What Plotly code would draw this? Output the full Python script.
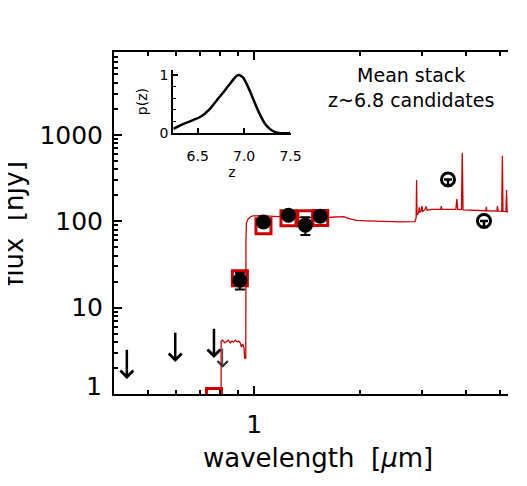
import numpy as np
import plotly.graph_objects as go

# --- data ---
# model SED (red line), wavelength in micron, flux in nJy
sed_wave = [0.40, 0.806, 0.806, 0.814, 0.825, 0.835, 0.845, 0.855, 0.865, 0.875,
            0.885, 0.895, 0.905, 0.913, 0.920, 0.928, 0.936, 0.940, 0.946, 0.947,
            0.948, 0.951, 0.960, 0.975, 0.990, 1.05, 1.20, 1.45, 1.65, 1.75,
            1.80, 1.83, 1.95, 2.10, 2.40, 2.60, 2.862, 2.885, 2.893, 2.901,
            2.93, 2.945, 2.955, 2.98, 2.995, 3.01, 3.05, 3.08, 3.10, 3.20,
            3.39, 3.40, 3.41, 3.60, 3.74, 3.765, 3.785, 3.88, 3.90, 3.92,
            4.30, 4.55, 4.565, 4.58, 4.89, 4.91, 4.93, 5.05, 5.07, 5.09,
            5.19, 5.21, 5.23, 5.40, 5.60, 6.00]
sed_flux = [0.001, 0.001, 4.1, 4.2, 3.9, 4.1, 4.2, 3.9, 4.1, 4.0,
            4.2, 4.0, 4.1, 3.9, 3.5, 3.8, 3.4, 2.6, 2.6, 2.6,
            60.0, 95.0, 105.0, 112.0, 115.0, 116.0, 112.0, 110.0, 111.0, 112.0,
            113.0, 109.0, 102.0, 101.0, 99.0, 98.0, 99.0, 110.0, 299.0, 118.0,
            125.0, 145.0, 128.0, 130.0, 150.0, 130.0, 135.0, 148.0, 134.0, 137.0,
            138.0, 150.0, 138.0, 138.0, 137.0, 180.0, 137.0, 136.0, 618.0, 135.0,
            133.0, 132.0, 147.0, 132.0, 131.0, 150.0, 131.0, 130.0, 571.0, 130.0,
            129.0, 229.0, 128.0, 127.0, 126.0, 125.0]

# model fluxes in the filter bands (red boxes)
band_wave = [0.769, 0.911, 1.063, 1.252, 1.398, 1.541]
band_flux = [0.95, 21.9, 87.5, 108.0, 108.0, 109.0]

# HST detections (filled circles)
hst_wave = [0.911, 1.063, 1.252, 1.398, 1.541]
hst_flux = [20.7, 98.0, 117.0, 90.0, 114.0]
hst_err = [4.5, 3.0, 3.0, 21.0, 3.0]

# IRAC detections (open circles)
irac_wave = [3.553, 4.496]
irac_flux = [304.0, 100.8]
irac_err = [45.0, 15.0]

# upper limits (arrows start at the limit)
lim_wave = [0.435, 0.597, 0.769]
lim_flux = [3.38, 5.31, 5.91]
thin_wave = [0.814]
thin_flux = [3.5]

# photometric redshift probability (inset)
pz_z = [6.238, 6.325, 6.43, 6.535, 6.622, 6.709, 6.796, 6.866, 6.919, 6.947,
        6.989, 7.041, 7.094, 7.163, 7.233, 7.303, 7.372, 7.495]
pz_p = [0.074, 0.143, 0.211, 0.286, 0.40, 0.571, 0.743, 0.886, 0.983, 1.0,
        0.954, 0.80, 0.60, 0.343, 0.143, 0.04, 0.0, 0.0]

# tick labels (the "1" label sits a bit above its tick, drawn separately)
y_ticks = [1, 10, 100, 1000, 10000]
y_ticktext = ['', '10', '100', '1000', '']
x_ticks = [1]
x_ticktext = ['1']

RED = '#cc0000'
FONT = 'DejaVu Sans'
ARROW_DEX = 0.355
THIN_DEX = 0.24

y_minor = [m * 10 ** d for d in range(4) for m in range(2, 10)]
x_minor = [0.5, 0.6, 0.7, 0.8, 0.9, 2, 3, 4, 5]
x_range = [np.log10(0.4), np.log10(5.26)]
y_range = [0, 3.958]

fig = go.Figure()

fig.add_trace(go.Scatter(x=sed_wave, y=sed_flux, mode='lines',
                         line=dict(color=RED, width=1.3)))
fig.add_trace(go.Scatter(x=band_wave, y=band_flux, mode='markers',
                         marker=dict(symbol='square-open', size=15, color=RED,
                                     line=dict(width=3, color=RED))))
fig.add_trace(go.Scatter(x=hst_wave, y=hst_flux, mode='markers',
                         marker=dict(symbol='circle', size=15, color='black'),
                         error_y=dict(type='data', array=hst_err, color='black',
                                      thickness=2, width=5)))
fig.add_trace(go.Scatter(x=irac_wave, y=irac_flux, mode='markers',
                         marker=dict(symbol='circle-open', size=13, color='black',
                                     line=dict(width=3, color='black')),
                         error_y=dict(type='data', symmetric=False,
                                      array=[0] * len(irac_wave),
                                      arrayminus=irac_err, color='black',
                                      thickness=2.5, width=4)))

# inset p(z)
fig.add_trace(go.Scatter(x=pz_z, y=pz_p, mode='lines', xaxis='x2', yaxis='y2',
                         line=dict(color='black', width=2.5, shape='spline')))

# upper-limit arrows
for w, f in zip(lim_wave, lim_flux):
    fig.add_annotation(x=np.log10(w), y=np.log10(f) - ARROW_DEX,
                       ax=np.log10(w), ay=np.log10(f), axref='x', ayref='y',
                       xref='x', yref='y', text='', showarrow=True,
                       arrowhead=4, arrowwidth=2.5, arrowsize=1,
                       arrowcolor='black', standoff=0)
for w, f in zip(thin_wave, thin_flux):
    fig.add_annotation(x=np.log10(w), y=np.log10(f) - THIN_DEX,
                       ax=np.log10(w), ay=np.log10(f), axref='x', ayref='y',
                       xref='x', yref='y', text='', showarrow=True,
                       arrowhead=4, arrowwidth=1, arrowsize=2,
                       arrowcolor='#333333', standoff=0)

# labels
fig.add_annotation(text='Mean stack<br>z~6.8 candidates', xref='paper',
                   yref='paper', x=0.7531, y=0.8975, xanchor='center',
                   yanchor='middle', showarrow=False,
                   font=dict(size=19, color='black'))
fig.add_annotation(text='wavelength\u00a0\u00a0[<i>\u03bc</i>m]', xref='paper',
                   yref='paper', x=0.5173, y=-0.1876, xanchor='center',
                   yanchor='middle', showarrow=False,
                   font=dict(size=26, color='black'))
fig.add_annotation(text='flux\u00a0\u00a0[nJy]', xref='paper', yref='paper',
                   x=-0.2543, y=0.5, xanchor='center', yanchor='middle',
                   textangle=-90, showarrow=False,
                   font=dict(size=26, color='black'))
fig.add_annotation(text='1', xref='paper', yref='y', x=0, y=np.log10(y_ticks[0]),
                   xanchor='right', yanchor='middle', xshift=-10, yshift=8,
                   showarrow=False, font=dict(size=25, color='black'))

axis_common = dict(showline=True, linewidth=2, linecolor='black', showgrid=False,
                   zeroline=False, ticks='inside', tickwidth=2, tickcolor='black')

# the page adds an 8px body margin, so the figure is sized to fit the window
fig.update_layout(
    width=511, height=470,
    margin=dict(l=106, r=0, t=44, b=84.4),
    paper_bgcolor='white', plot_bgcolor='white',
    showlegend=False,
    font=dict(family=FONT, color='black'),
    xaxis=dict(type='log', range=x_range, domain=[0, 1], mirror='ticks',
               ticklen=8, tickvals=x_ticks, ticktext=x_ticktext,
               tickfont=dict(size=25), ticklabelstandoff=7,
               minor=dict(ticks='inside', ticklen=4, tickwidth=2,
                          tickcolor='black', tickvals=x_minor),
               **axis_common),
    yaxis=dict(type='log', range=y_range, domain=[0, 1], anchor='x',
               ticklen=8, tickvals=y_ticks,
               ticktext=y_ticktext, tickfont=dict(size=25),
               ticklabelstandoff=4,
               minor=dict(ticks='inside', ticklen=4, tickwidth=2,
                          tickcolor='black', tickvals=y_minor),
               **axis_common),
    xaxis2=dict(range=[6.238, 7.5], domain=[0.1506, 0.4481], anchor='y2',
                ticklen=5, tickvals=[6.5, 7.0, 7.5],
                ticktext=['6.5', '7.0', '7.5'], tickfont=dict(size=14),
                ticklabelstandoff=9,
                title=dict(text='z', font=dict(size=14), standoff=2),
                **axis_common),
    yaxis2=dict(range=[0, 1.086], domain=[0.7629, 0.9473], anchor='x2',
                ticklen=5, tickvals=[0, 1], ticktext=['0', '1'],
                tickfont=dict(size=14),
                minor=dict(ticks='inside', ticklen=3, tickwidth=1,
                           tickcolor='black', dtick=0.2),
                title=dict(text='p(z)', font=dict(size=14), standoff=9),
                **axis_common),
)

fig.write_html("out.html")
